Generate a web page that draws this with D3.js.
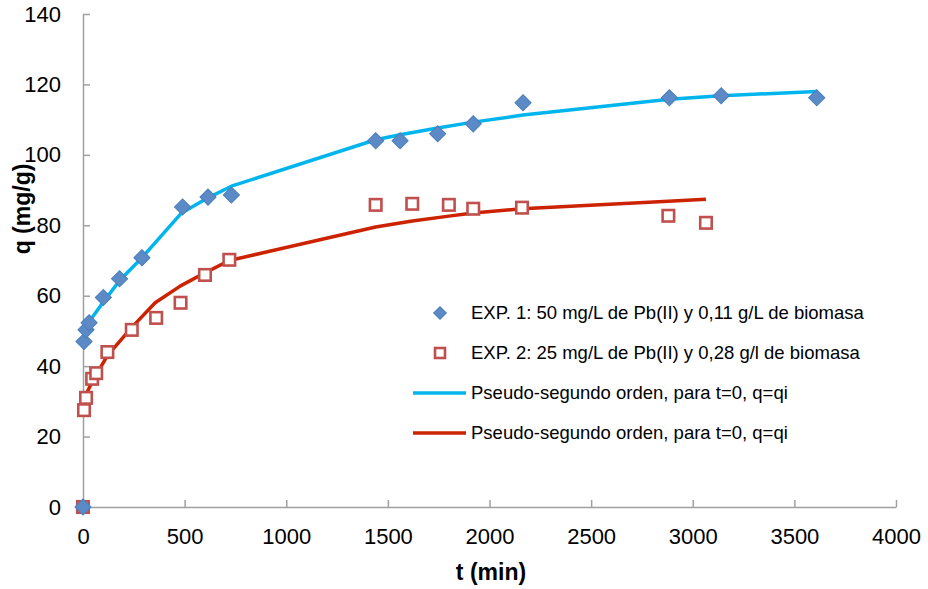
<!DOCTYPE html>
<html>
<head>
<meta charset="utf-8">
<script src="https://cdn.jsdelivr.net/npm/d3@7"></script>
<style>
  body { margin: 0; background: #fff; }
  text { font-family: "Liberation Sans", Arial, sans-serif; }
</style>
</head>
<body>
<script>
// experimental data
var exp1T = [0, 5, 15, 30, 100, 180, 290, 490, 615, 730, 1440, 1560, 1745, 1920, 2165, 2885, 3140, 3610];
var exp1Q = [0, 47, 50.3, 52.3, 59.5, 64.8, 70.8, 85.2, 88, 88.6, 104, 104, 106, 108.8, 114.8, 116.2, 116.8, 116.2];
var exp2T = [0, 5, 15, 45, 65, 120, 240, 360, 480, 600, 720, 1440, 1620, 1800, 1920, 2160, 2880, 3065];
var exp2Q = [0, 27.5, 31, 36.4, 38, 44, 50.3, 53.7, 58, 65.9, 70.2, 85.8, 86.1, 85.8, 84.7, 85, 82.7, 80.7];

// pseudo-second order fits
var fit1T = [0, 5, 15, 30, 100, 180, 290, 485, 615, 730, 1440, 1560, 1745, 1920, 2165, 2885, 3140, 3610];
var fit1Q = [50, 50.6, 51.4, 52.6, 58.2, 64.3, 70.8, 83.5, 87.8, 91.1, 104.3, 105.7, 107.6, 109.3, 111.3, 115.8, 116.8, 118];
var fit2T = [0, 5, 15, 45, 65, 120, 240, 355, 480, 600, 720, 1440, 1620, 1800, 1920, 2160, 2880, 3065];
var fit2Q = [29.5, 30.5, 32, 35.5, 37.5, 43, 51, 58, 62.8, 66.5, 70, 79.5, 81.2, 82.6, 83.5, 84.7, 86.8, 87.4];

var xTicks = [0, 500, 1000, 1500, 2000, 2500, 3000, 3500, 4000];
var yTicks = [0, 20, 40, 60, 80, 100, 120, 140];

var legendLabels = [
  "EXP. 1: 50 mg/L de Pb(II) y 0,11 g/L de biomasa",
  "EXP. 2: 25 mg/L de Pb(II) y 0,28 g/l de biomasa",
  "Pseudo-segundo orden, para t=0, q=qi",
  "Pseudo-segundo orden, para t=0, q=qi"
];

var W = 928, H = 589;
var margin = {left: 83, right: 32, top: 14, bottom: 82};
var width = W - margin.left - margin.right;
var height = H - margin.top - margin.bottom;

var svg = d3.select("body").append("svg")
  .attr("width", W)
  .attr("height", H);

var g = svg.append("g")
  .attr("transform", "translate(" + margin.left + "," + margin.top + ")");

var x = d3.scaleLinear().domain([0, 4000]).range([0, width]);
var y = d3.scaleLinear().domain([0, 140]).range([height, 0]);

var axisColor = "#a0a0a0";

// x axis
var xAxis = g.append("g")
  .attr("transform", "translate(0," + height + ")")
  .call(d3.axisBottom(x).tickValues(xTicks).tickFormat(d3.format("d"))
    .tickSize(-7).tickPadding(21).tickSizeOuter(0));
xAxis.select(".domain").attr("stroke", axisColor).attr("stroke-width", 1.5);
xAxis.selectAll(".tick line").attr("stroke", axisColor).attr("stroke-width", 1.5);
xAxis.selectAll(".tick text").attr("font-size", 22).attr("fill", "#000")
  .attr("font-family", "Liberation Sans, Arial, sans-serif");

// y axis
var yAxis = g.append("g")
  .call(d3.axisLeft(y).tickValues(yTicks).tickFormat(d3.format("d"))
    .tickSize(-7).tickPadding(22).tickSizeOuter(0));
yAxis.select(".domain").attr("stroke", axisColor).attr("stroke-width", 1.5);
yAxis.selectAll(".tick line").attr("stroke", axisColor).attr("stroke-width", 1.5);
yAxis.selectAll(".tick text").attr("font-size", 22).attr("fill", "#000")
  .attr("font-family", "Liberation Sans, Arial, sans-serif");

// axis titles
svg.append("text")
  .attr("x", 491)
  .attr("y", 580)
  .attr("text-anchor", "middle")
  .attr("font-size", 23)
  .attr("font-weight", "bold")
  .text("t (min)");

svg.append("text")
  .attr("transform", "translate(30,209) rotate(-90)")
  .attr("text-anchor", "middle")
  .attr("font-size", 23)
  .attr("font-weight", "bold")
  .text("q (mg/g)");

// fit lines
var line = d3.line()
  .x(function(d) { return x(d[0]); })
  .y(function(d) { return y(d[1]); });

g.append("path")
  .datum(d3.zip(fit1T, fit1Q))
  .attr("d", line)
  .attr("fill", "none")
  .attr("stroke", "#00b5ee")
  .attr("stroke-width", 3.5)
  .attr("stroke-linejoin", "round");

g.append("path")
  .datum(d3.zip(fit2T, fit2Q))
  .attr("d", line)
  .attr("fill", "none")
  .attr("stroke", "#cc2200")
  .attr("stroke-width", 3.5)
  .attr("stroke-linejoin", "round");

// markers
var diamond = d3.symbol().type(d3.symbolSquare).size(130);

g.selectAll(".sq")
  .data(d3.zip(exp2T, exp2Q))
  .enter().append("rect")
  .attr("class", "sq")
  .attr("x", function(d) { return x(d[0]) - 5.75; })
  .attr("y", function(d) { return y(d[1]) - 5.75; })
  .attr("width", 11.5)
  .attr("height", 11.5)
  .attr("fill", "#fff")
  .attr("stroke", "#c0504d")
  .attr("stroke-width", 2.6);

g.selectAll(".dm")
  .data(d3.zip(exp1T, exp1Q))
  .enter().append("path")
  .attr("class", "dm")
  .attr("d", diamond)
  .attr("transform", function(d) { return "translate(" + x(d[0]) + "," + y(d[1]) + ") rotate(45)"; })
  .attr("fill", "#5b8ac6")
  .attr("stroke", "#4a7ebb")
  .attr("stroke-width", 1);

// legend
var legY = [313, 353, 393, 433];
var leg = svg.append("g");

leg.append("path")
  .attr("d", d3.symbol().type(d3.symbolSquare).size(80))
  .attr("transform", "translate(440," + legY[0] + ") rotate(45)")
  .attr("fill", "#5b8ac6")
  .attr("stroke", "#4a7ebb");

leg.append("rect")
  .attr("x", 435).attr("y", legY[1] - 5)
  .attr("width", 10).attr("height", 10)
  .attr("fill", "#fff")
  .attr("stroke", "#c0504d")
  .attr("stroke-width", 2.6);

leg.append("line")
  .attr("x1", 413).attr("x2", 466)
  .attr("y1", legY[2]).attr("y2", legY[2])
  .attr("stroke", "#00b5ee").attr("stroke-width", 3.5);

leg.append("line")
  .attr("x1", 413).attr("x2", 466)
  .attr("y1", legY[3]).attr("y2", legY[3])
  .attr("stroke", "#cc2200").attr("stroke-width", 3.5);

leg.selectAll(".lt")
  .data(legendLabels)
  .enter().append("text")
  .attr("class", "lt")
  .attr("x", 471)
  .attr("y", function(d, i) { return legY[i]; })
  .attr("dy", "0.35em")
  .attr("font-size", 18.5)
  .text(function(d) { return d; });
</script>
</body>
</html>
